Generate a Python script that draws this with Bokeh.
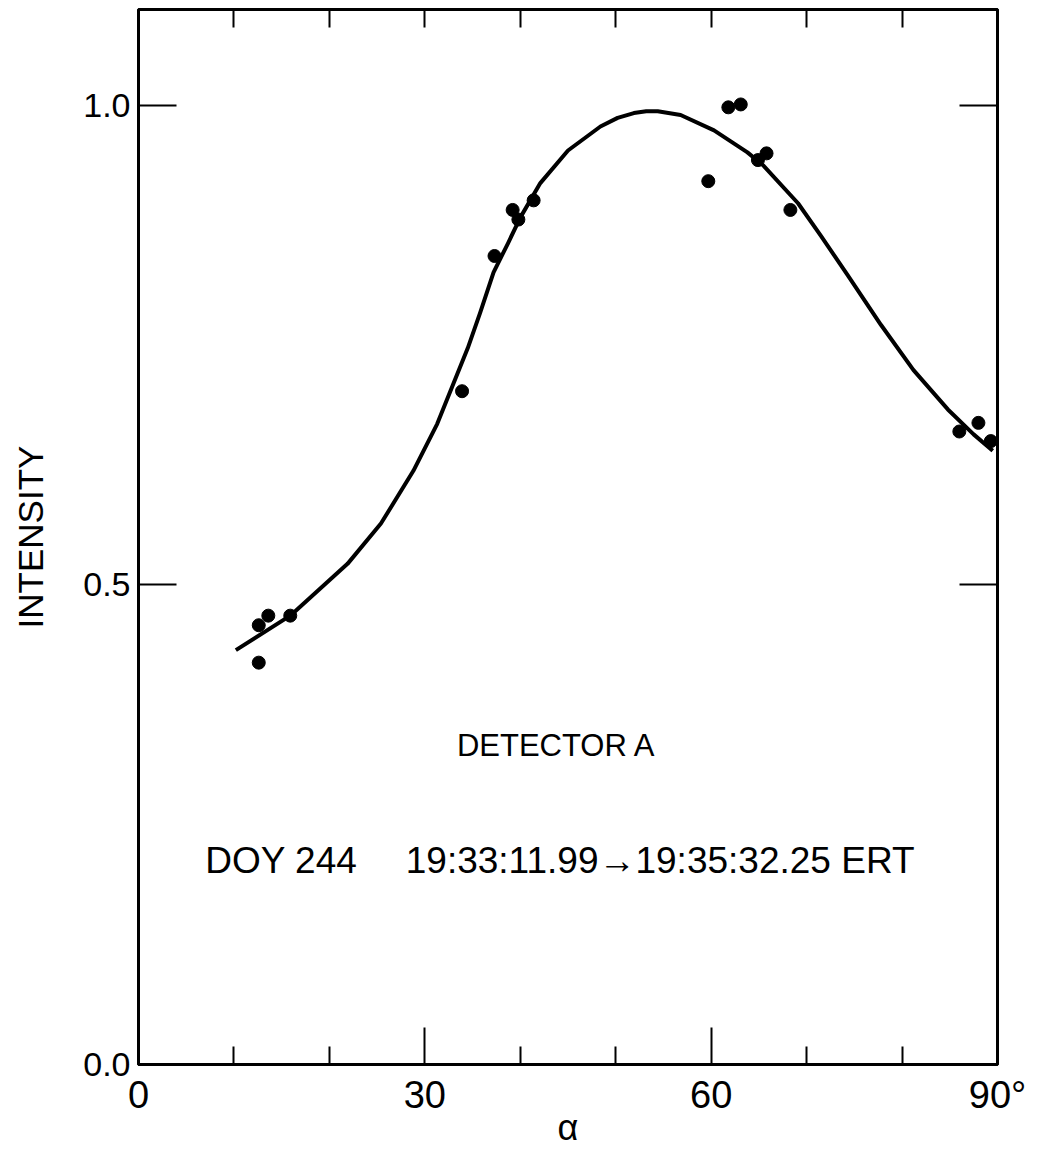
from bokeh.plotting import figure
from bokeh.models import Range1d, LinearAxis, FixedTicker, Label
from bokeh.embed import file_html
from bokeh.resources import INLINE

# measured data points (alpha in degrees, normalised intensity)
alpha_pts = [12.6, 13.6, 12.6, 15.9, 33.9, 37.3, 39.2, 39.8, 41.4,
             59.7, 61.8, 63.1, 64.9, 65.8, 68.3, 86.0, 88.0, 89.3]
intensity_pts = [0.458, 0.468, 0.419, 0.468, 0.702, 0.843, 0.891, 0.881, 0.901,
                 0.921, 0.998, 1.001, 0.943, 0.950, 0.891, 0.660, 0.669, 0.650]

# fitted curve
curve_alpha = [10.2, 15.9, 21.9, 25.4, 28.8, 31.3, 33.0, 34.5, 35.8, 37.2,
               38.7, 40.0, 42.1, 45.0, 48.4, 50.2, 51.9, 53.2, 54.4, 56.8, 60.3, 63.8,
               65.5, 69.1, 71.5, 74.3, 77.8, 81.2, 84.8, 87.5, 89.5]
curve_intensity = [0.432, 0.468, 0.522, 0.564, 0.619, 0.668, 0.710, 0.747, 0.784, 0.826,
                   0.856, 0.883, 0.919, 0.953, 0.978, 0.987, 0.992, 0.994, 0.994, 0.990,
                   0.974, 0.951, 0.937, 0.898, 0.864, 0.823, 0.771, 0.724, 0.683, 0.657, 0.640]

y_ticks = [0.0, 0.5, 1.0]
y_tick_labels = ["0.0", "0.5", "1.0"]
x_major = [0, 30, 60, 90]
x_major_labels = ["0", "30", "60", "90°"]
x_minor = [10, 20, 40, 50, 70, 80]
top_ticks = [10, 20, 30, 40, 50, 60, 70, 80]
right_ticks = [0.5, 1.0]

FONT = "Liberation Sans"

p = figure(width=1050, height=1151, x_range=Range1d(0, 90), y_range=Range1d(0, 1.1),
           output_backend="svg", toolbar_location=None,
           min_border_left=138, min_border_right=53, min_border_top=9, min_border_bottom=87)
p.grid.visible = False
p.outline_line_color = "black"
p.outline_line_width = 3

# bottom axis
xa = p.xaxis[0]
xa.ticker = FixedTicker(ticks=x_major, minor_ticks=x_minor)
xa.major_label_overrides = {t: l for t, l in zip(x_major, x_major_labels)}
xa.major_tick_in = 37
xa.major_tick_out = 0
xa.minor_tick_in = 18
xa.minor_tick_out = 0
xa.major_tick_line_width = 2
xa.minor_tick_line_width = 2
xa.axis_line_width = 3
xa.major_label_standoff = 9
xa.major_label_text_font = FONT
xa.major_label_text_font_size = "38px"
xa.major_label_text_color = "black"
xa.axis_label = "α"
xa.axis_label_text_font = FONT
xa.axis_label_text_font_size = "36px"
xa.axis_label_text_font_style = "normal"
xa.axis_label_text_color = "black"
xa.axis_label_standoff = -12

# left axis
ya = p.yaxis[0]
ya.ticker = FixedTicker(ticks=y_ticks, minor_ticks=[])
ya.major_label_overrides = {t: l for t, l in zip(y_ticks, y_tick_labels)}
ya.major_tick_in = 38
ya.major_tick_out = 0
ya.major_tick_line_width = 2
ya.axis_line_width = 3
ya.major_label_standoff = 8
ya.major_label_text_font = FONT
ya.major_label_text_font_size = "34px"
ya.major_label_text_color = "black"
ya.axis_label = "INTENSITY"
ya.axis_label_text_font = FONT
ya.axis_label_text_font_size = "35px"
ya.axis_label_text_font_style = "normal"
ya.axis_label_text_color = "black"
ya.axis_label_standoff = 30

# top axis
ta = LinearAxis(ticker=FixedTicker(ticks=top_ticks, minor_ticks=[]))
ta.major_label_overrides = {t: "" for t in top_ticks}
ta.major_tick_in = 18
ta.major_tick_out = 0
ta.major_tick_line_width = 2
ta.axis_line_width = 3
ta.major_label_standoff = 0
ta.major_label_text_font_size = "1px"
p.add_layout(ta, "above")

# right axis
ra = LinearAxis(ticker=FixedTicker(ticks=right_ticks, minor_ticks=[]))
ra.major_label_overrides = {t: "" for t in right_ticks}
ra.major_tick_in = 38
ra.major_tick_out = 0
ra.major_tick_line_width = 2
ra.axis_line_width = 3
ra.major_label_standoff = 0
ra.major_label_text_font_size = "1px"
p.add_layout(ra, "right")

p.line(curve_alpha, curve_intensity, line_color="black", line_width=4, line_join="round")
p.scatter(alpha_pts, intensity_pts, size=13, fill_color="black", line_color="black")

p.add_layout(Label(x=43.8, y=0.333, text="DETECTOR A", text_align="center", text_baseline="middle",
                   text_font=FONT, text_font_size="31px", text_color="black"))
p.add_layout(Label(x=7.0, y=0.213, text="DOY 244", text_align="left", text_baseline="middle",
                   text_font=FONT, text_font_size="37px", text_color="black"))
p.add_layout(Label(x=28.0, y=0.213, text="19:33:11.99\u219219:35:32.25 ERT", text_align="left",
                   text_baseline="middle", text_font=FONT, text_font_size="37px", text_color="black"))

open("out.html", "w").write(file_html(p, INLINE))
